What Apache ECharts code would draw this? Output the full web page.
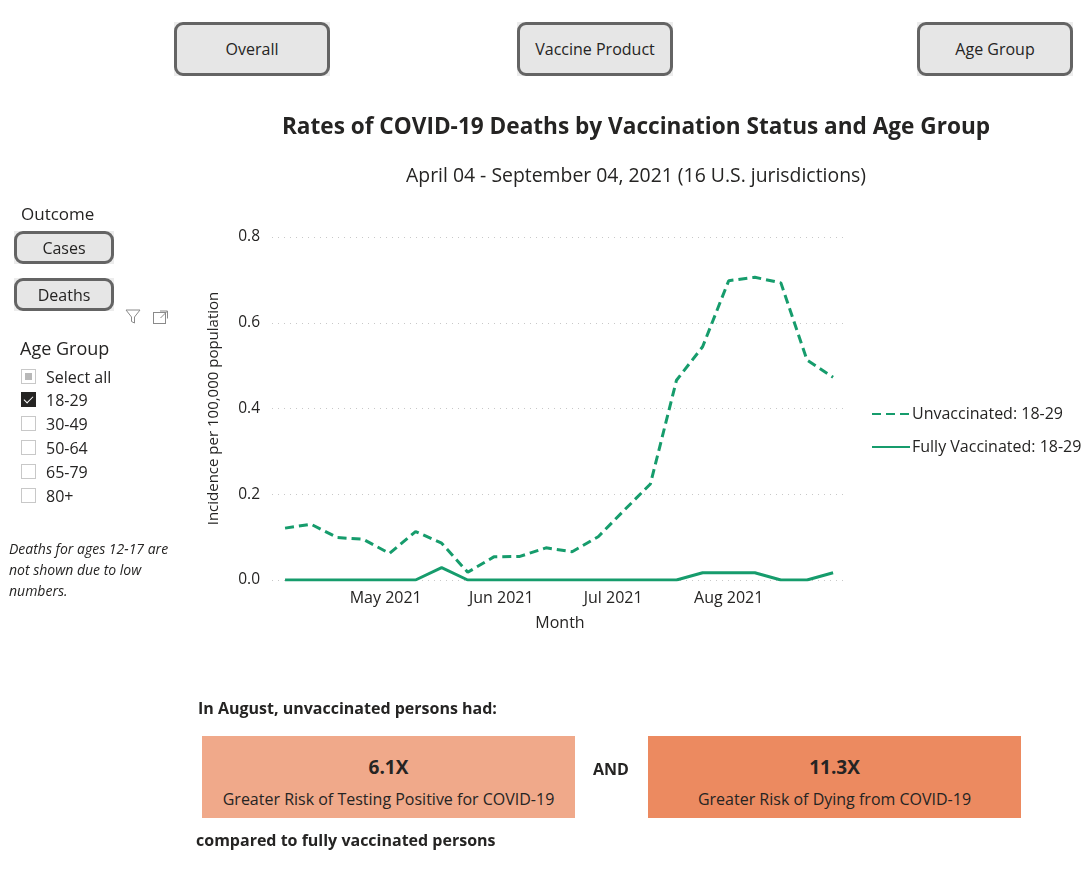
<!DOCTYPE html>
<html><head><meta charset="utf-8">
<script src="https://cdn.jsdelivr.net/npm/echarts@6/dist/echarts.min.js"></script>
<style>
html,body{margin:0;padding:0}
body{width:1081px;height:871px;position:relative;background:#fff;font-family:"Segoe UI","Open Sans",sans-serif;color:#252423;overflow:hidden}
#chart{position:absolute;left:0;top:0;width:1081px;height:871px}
.a{position:absolute;white-space:nowrap;z-index:2}
.bw{position:absolute;background:#ececec;z-index:2}
.btn{position:absolute;left:0;top:0;right:0;bottom:0;box-sizing:border-box;border:3px solid #646464;border-radius:9px;background:#e6e6e6;display:flex;align-items:center;justify-content:center;color:#252423}
.cb{position:absolute;left:21px;width:15px;height:15px;box-sizing:border-box;border:1px solid #c8c8c8;background:#fff;z-index:2}
.cl{position:absolute;left:46px;font-size:16px;color:#252423;z-index:2;line-height:20px}
.box{position:absolute;top:736px;width:373px;height:82px;z-index:2;text-align:center}
.big{position:absolute;left:0;right:0;top:18px;font-weight:bold;font-size:19px;color:#252423}
.sub{position:absolute;left:0;right:0;top:52px;font-size:16px;color:#252423}
</style></head>
<body>
<div id="chart"></div>

<div class="bw" style="left:174px;top:22px;width:156px;height:54px"><div class="btn" style="font-size:16px">Overall</div></div>
<div class="bw" style="left:517px;top:22px;width:156px;height:54px"><div class="btn" style="font-size:16px">Vaccine Product</div></div>
<div class="bw" style="left:917px;top:22px;width:156px;height:54px"><div class="btn" style="font-size:16px">Age Group</div></div>

<div class="a" style="left:21px;top:202px;font-size:17px">Outcome</div>
<div class="bw" style="left:14px;top:231px;width:100px;height:33px"><div class="btn" style="font-size:16px">Cases</div></div>
<div class="bw" style="left:14px;top:278px;width:100px;height:33px"><div class="btn" style="font-size:16px">Deaths</div></div>
<svg class="a" style="left:124px;top:308px" width="50" height="18" viewBox="0 0 50 18">
  <path d="M2 2 H16 L10.5 9 V15 L7.5 13.5 V9 Z" fill="none" stroke="#8a8a8a" stroke-width="1"/>
  <rect x="29.5" y="4.5" width="12" height="11" fill="none" stroke="#8a8a8a" stroke-width="1"/>
  <path d="M36 3 H43.5 V10.5 M43.5 3 L36.5 10" fill="none" stroke="#8a8a8a" stroke-width="1"/>
</svg>

<div class="a" style="left:20px;top:336px;font-size:18px">Age Group</div>
<div class="cb" style="top:369px"><div style="position:absolute;left:3px;top:3px;width:7px;height:7px;background:#b8b8b8"></div></div>
<div class="cl" style="top:367px">Select all</div>
<div class="cb" style="top:392px;background:#252423;border-color:#252423"><div style="position:absolute;left:4px;top:1px;width:4px;height:8px;border:solid #fff;border-width:0 1.5px 1.5px 0;transform:rotate(45deg)"></div></div>
<div class="cl" style="top:390px">18-29</div>
<div class="cb" style="top:416px"></div><div class="cl" style="top:414px">30-49</div>
<div class="cb" style="top:440px"></div><div class="cl" style="top:438px">50-64</div>
<div class="cb" style="top:464px"></div><div class="cl" style="top:462px">65-79</div>
<div class="cb" style="top:488px"></div><div class="cl" style="top:486px">80+</div>

<div class="a" style="left:9px;top:538px;font-size:14px;font-style:italic;line-height:21px;color:#252423">Deaths for ages 12-17 are<br>not shown due to low<br>numbers.</div>

<div class="a" style="left:198px;top:697px;font-size:16px;font-weight:bold">In August, unvaccinated persons had:</div>
<div class="box" style="left:202px;background:#f0a98a"><div class="big">6.1X</div><div class="sub">Greater Risk of Testing Positive for COVID-19</div></div>
<div class="a" style="left:593px;top:758px;font-size:16px;font-weight:bold">AND</div>
<div class="box" style="left:648px;background:#ec8a60"><div class="big">11.3X</div><div class="sub">Greater Risk of Dying from COVID-19</div></div>
<div class="a" style="left:196px;top:829px;font-size:16px;font-weight:bold">compared to fully vaccinated persons</div>

<script>
var weeks = ['2021-04-04','2021-04-11','2021-04-18','2021-04-25','2021-05-02','2021-05-09','2021-05-16','2021-05-23','2021-05-30','2021-06-06','2021-06-13','2021-06-20','2021-06-27','2021-07-04','2021-07-11','2021-07-18','2021-07-25','2021-08-01','2021-08-08','2021-08-15','2021-08-22','2021-08-29'];
var unvaccinated = [0.121,0.130,0.099,0.095,0.062,0.113,0.086,0.018,0.054,0.055,0.075,0.066,0.101,0.163,0.224,0.466,0.544,0.698,0.706,0.693,0.513,0.473];
var fullyVaccinated = [0,0,0,0,0,0,0.029,0,0,0,0,0,0,0,0,0,0.017,0.017,0.017,0,0,0.017];
var monthTicks = ['2021-05-01','2021-06-01','2021-07-01','2021-08-01'];
var monthLabels = ['May 2021','Jun 2021','Jul 2021','Aug 2021'];
var yTicks = [0, 0.2, 0.4, 0.6, 0.8];
var seriesNames = ['Unvaccinated: 18-29','Fully Vaccinated: 18-29'];

var FONT = '"Segoe UI","Open Sans",sans-serif';
var GREEN = '#169c6c';
var DAY = 86400000;
function ts(s){ var p = s.split('-'); return Date.UTC(+p[0], +p[1]-1, +p[2]); }
var monthTs = monthTicks.map(ts);

var chart = echarts.init(document.getElementById('chart'), null, {renderer:'canvas'});
chart.setOption({
  backgroundColor: 'transparent',
  animation: false,
  title: [
    {text: 'Rates of COVID-19 Deaths by Vaccination Status and Age Group', left: 631, top: 111, textAlign: 'center',
     textStyle: {fontFamily: FONT, fontSize: 22.6, fontWeight: 'bold', color: '#252423'}},
    {text: 'April 04 - September 04, 2021 (16 U.S. jurisdictions)', left: 631, top: 162, textAlign: 'center',
     textStyle: {fontFamily: FONT, fontSize: 19.4, fontWeight: 'normal', color: '#252423'}}
  ],
  legend: {
    orient: 'vertical', left: 866, top: 401, itemGap: 17, itemWidth: 38, itemHeight: 12,
    data: seriesNames,
    itemStyle: {opacity: 0},
    textStyle: {fontFamily: FONT, fontSize: 16, color: '#252423', padding: [0,0,0,-3]}
  },
  grid: {left: 272, right: 233, top: 237, bottom: 291, containLabel: false},
  xAxis: {
    type: 'value',
    min: ts(weeks[0]) - 3.5*DAY,
    max: ts(weeks[weeks.length-1]) + 4*DAY,
    name: 'Month', nameLocation: 'middle', nameGap: 35,
    nameTextStyle: {fontFamily: FONT, fontSize: 16, color: '#252423'},
    axisLine: {show: false}, axisTick: {show: false}, splitLine: {show: false},
    axisLabel: {
      customValues: monthTs, margin: 10,
      fontFamily: FONT, fontSize: 16, color: '#252423',
      formatter: function(v){ var i = monthTs.indexOf(v); return i >= 0 ? monthLabels[i] : ''; }
    }
  },
  yAxis: {
    type: 'value', min: yTicks[0], max: yTicks[yTicks.length-1], interval: 0.2,
    name: 'Incidence per 100,000 population', nameLocation: 'middle', nameGap: 51, nameRotate: 90,
    nameTextStyle: {fontFamily: FONT, fontSize: 15, color: '#252423'},
    axisLine: {show: false}, axisTick: {show: false},
    axisLabel: {margin: 12, fontFamily: FONT, fontSize: 15.5, color: '#252423', formatter: function(v){ return v.toFixed(1); }},
    splitLine: {show: true, lineStyle: {color: '#c8c8c8', type: [1, 5], width: 1}}
  },
  series: [
    {name: seriesNames[0], type: 'line', symbol: 'none', showSymbol: false,
     data: weeks.map(function(w,i){ return [ts(w), unvaccinated[i]]; }),
     lineStyle: {color: GREEN, width: 3, type: [9, 5]}, itemStyle: {color: GREEN}},
    {name: seriesNames[1], type: 'line', symbol: 'none', showSymbol: false,
     data: weeks.map(function(w,i){ return [ts(w), fullyVaccinated[i]]; }),
     lineStyle: {color: GREEN, width: 3, type: 'solid'}, itemStyle: {color: GREEN}}
  ]
});
</script>
</body></html>
